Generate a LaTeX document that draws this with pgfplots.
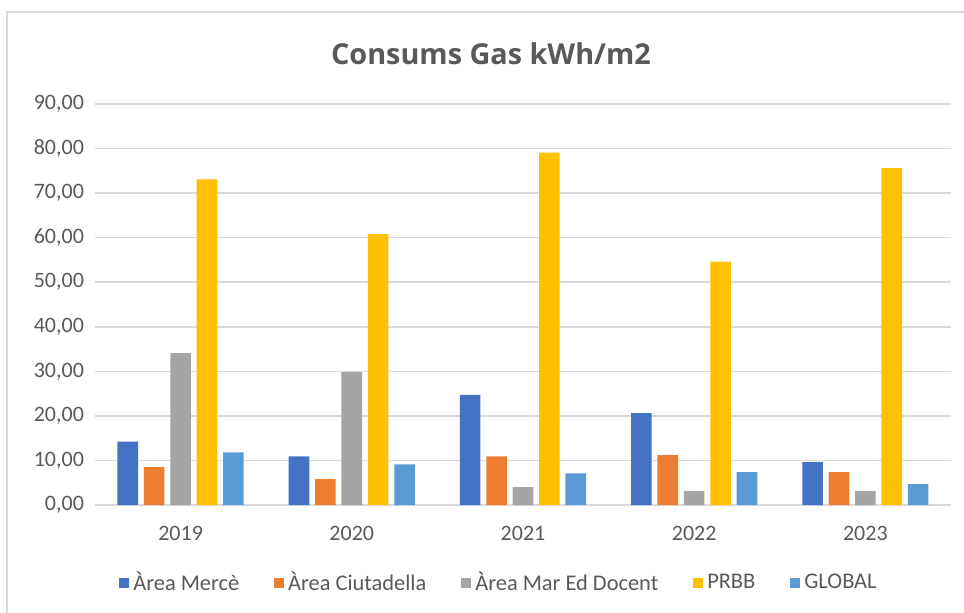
\documentclass[border=0pt]{standalone}
\usepackage{fontspec}
\setmainfont{Carlito}
\newfontfamily\titlefont{Open Sans}
\usepackage{pgfplots}
\pgfplotsset{compat=1.18}
\definecolor{cMerce}{HTML}{4472C4}
\definecolor{cCiut}{HTML}{ED7D31}
\definecolor{cMar}{HTML}{A5A5A5}
\definecolor{cPRBB}{HTML}{FFC000}
\definecolor{cGlob}{HTML}{5B9BD5}
\definecolor{txt}{HTML}{595959}
\definecolor{gridc}{HTML}{D9D9D9}
\begin{document}
\begin{tikzpicture}
\useasboundingbox (-47.5pt,-53.5pt) rectangle (434.5pt,252.5pt);
\begin{scope}
\clip (-47.5pt,-53.5pt) rectangle (434.5pt,252.5pt);
\draw[draw=gridc, line width=0.9pt] (-44pt,-70pt) -- (-44pt,246.5pt) -- (460pt,246.5pt);
\end{scope}
\node[text=txt, font=\titlefont\bfseries\fontsize{14.4}{16}\selectfont] at (198pt,225.5pt) {Consums Gas kWh/m2};
\begin{axis}[
  at={(0pt,0pt)}, anchor=south west,
  scale only axis,
  width=428pt, height=200.5pt,
  ybar=2.9pt, bar width=10.3pt,
  xmin=-0.5, xmax=4.5,
  ymin=0, ymax=90,
  ytick={0,10,...,90},
  xtick={0,1,2,3,4},
  xticklabels={2019,2020,2021,2022,2023},
  axis line style={draw=none},
  major tick length=0pt,
  ymajorgrids,
  grid style={draw=gridc, line width=0.8pt},
  tick label style={text=txt, font=\fontsize{11}{13}\selectfont},
  /pgf/number format/fixed,
  /pgf/number format/fixed zerofill,
  /pgf/number format/precision=2,
  /pgf/number format/use comma,
  /pgf/number format/assume math mode=true,
  yticklabel style={xshift=-2pt},
  xticklabel style={yshift=-7pt},
  legend style={at={(202.5pt,-39pt)}, anchor=center, draw=none, fill=none,
    legend columns=5, font=\fontsize{11.2}{13}\selectfont, text=txt,
    /tikz/every even column/.append style={column sep=15.5pt}},
  legend image code/.code={\fill[#1,draw=none] (0pt,-2.6pt) rectangle (5pt,2.4pt);},
]
\addplot[fill=cMerce, draw=none] coordinates {(0,14.2) (1,10.9) (2,24.7) (3,20.6) (4,9.6)};
\addplot[fill=cCiut, draw=none] coordinates {(0,8.5) (1,5.8) (2,10.9) (3,11.2) (4,7.4)};
\addplot[fill=cMar, draw=none] coordinates {(0,34.1) (1,29.8) (2,4.0) (3,3.1) (4,3.1)};
\addplot[fill=cPRBB, draw=none] coordinates {(0,73.1) (1,60.8) (2,79.1) (3,54.6) (4,75.6)};
\addplot[fill=cGlob, draw=none] coordinates {(0,11.8) (1,9.1) (2,7.1) (3,7.4) (4,4.7)};
\legend{Àrea Mercè, Àrea Ciutadella, Àrea Mar Ed Docent, PRBB, GLOBAL}
\end{axis}
\end{tikzpicture}
\end{document}
